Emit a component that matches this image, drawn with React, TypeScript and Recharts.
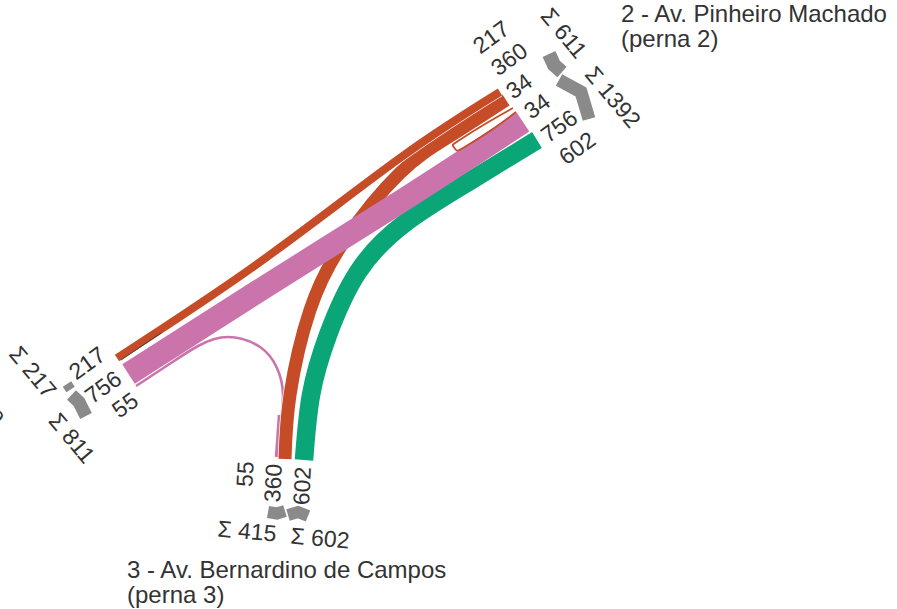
import { ComposedChart, Line, Scatter, XAxis, YAxis } from 'recharts'

const orange = '#c64c28'
const pink = '#cb74ab'
const green = '#0ba678'
const grey = '#8a8a8a'
const textColor = '#333333'

// flows, traced along the middle of each band (picture pixels)
const flow217 = [
  { x: 117, y: 358 },
  { x: 260, y: 262 },
  { x: 400, y: 158 },
  { x: 500, y: 92 }
]
const flow360 = [
  { x: 285, y: 459 },
  { x: 290, y: 395 },
  { x: 310, y: 310 },
  { x: 345, y: 240 },
  { x: 400, y: 173 },
  { x: 450, y: 136 },
  { x: 506, y: 100 }
]
const flow756 = [
  { x: 128.5, y: 374 },
  { x: 260, y: 290 },
  { x: 400, y: 202 },
  { x: 523, y: 122 }
]
const flow602 = [
  { x: 304, y: 460 },
  { x: 311, y: 395 },
  { x: 328, y: 335 },
  { x: 358, y: 272 },
  { x: 405, y: 223 },
  { x: 470, y: 181 },
  { x: 537, y: 140 }
]
const flow55 = [
  { x: 136, y: 386 },
  { x: 168, y: 365 },
  { x: 198, y: 346 },
  { x: 228, y: 337 },
  { x: 260, y: 347 },
  { x: 277, y: 368 },
  { x: 283, y: 395 },
  { x: 280, y: 430 },
  { x: 277, y: 457 }
]
const flow55End = [
  { x: 280, y: 415 },
  { x: 277, y: 457 }
]
const flow34Core = [
  { x: 459, y: 146 },
  { x: 513, y: 110 }
]
const flow34 = [
  { x: 513, y: 108 },
  { x: 485, y: 124 },
  { x: 458, y: 141 },
  { x: 453, y: 146 },
  { x: 456, y: 150 },
  { x: 463, y: 148 },
  { x: 490, y: 131 },
  { x: 516, y: 112 }
]
const gap217 = [
  { x: 121, y: 360 },
  { x: 161, y: 333 }
]

// grey direction arrows
const arrow611 = [
  { x: 549, y: 54 },
  { x: 554, y: 65 },
  { x: 562, y: 72 }
]
const arrow1392 = [
  { x: 559, y: 80 },
  { x: 581, y: 92 },
  { x: 589, y: 119 }
]
const arrow217 = [
  { x: 67, y: 384 },
  { x: 70.5, y: 389.5 }
]
const arrow811 = [
  { x: 71.5, y: 395 },
  { x: 79, y: 402 },
  { x: 86, y: 416 }
]
const arrow415 = [
  { x: 268, y: 512 },
  { x: 277, y: 513.5 },
  { x: 285, y: 511 }
]
const arrow602 = [
  { x: 288, y: 515 },
  { x: 298, y: 512 },
  { x: 308, y: 516 }
]

const topLabels = [
  { x: 491, y: 37, text: '217' },
  { x: 509, y: 59, text: '360' },
  { x: 519, y: 86, text: '34' },
  { x: 537, y: 106, text: '34' },
  { x: 559, y: 126, text: '756' },
  { x: 577, y: 148, text: '602' },
  { x: 87, y: 363, text: '217' },
  { x: 103, y: 387, text: '756' },
  { x: 125, y: 405, text: '55' }
]
const sumLabels = [
  { x: 564, y: 33, text: 'Σ 611' },
  { x: 613, y: 97, text: 'Σ 1392' },
  { x: 33, y: 372, text: 'Σ 217' },
  { x: 72, y: 438, text: 'Σ 811' }
]
const clippedLabels = [{ x: -2, y: 415, text: 'o' }]
const bottomLabels = [
  { x: 245, y: 474, text: '55' },
  { x: 273, y: 483, text: '360' },
  { x: 302, y: 486, text: '602' }
]
const bottomSums = [
  { x: 247, y: 531, text: 'Σ 415' },
  { x: 320, y: 538, text: 'Σ 602' }
]
const legTitles = [
  { x: 621, y: 22, text: '2 - Av. Pinheiro Machado' },
  { x: 621, y: 47, text: '(perna 2)' },
  { x: 127, y: 578, text: '3 - Av. Bernardino de Campos' },
  { x: 127, y: 603, text: '(perna 3)' }
]

const labelShape = (angle: number) => (props: any) => (
  <text
    x={0}
    y={0}
    transform={`translate(${props.cx},${props.cy}) rotate(${angle})`}
    textAnchor="middle"
    dominantBaseline="central"
    fontSize={23}
    fontFamily="Liberation Sans"
    fill={textColor}
  >
    {props.payload.text}
  </text>
)

const titleShape = (props: any) => (
  <text x={props.cx} y={props.cy} fontSize={24} fontFamily="Liberation Sans" fill={textColor}>
    {props.payload.text}
  </text>
)

function band(key: string, data: { x: number; y: number }[], color: string, width: number, type: any = 'natural') {
  return (
    <Line
      key={key}
      data={data}
      dataKey="y"
      type={type}
      stroke={color}
      strokeWidth={width}
      strokeLinejoin="miter"
      dot={false}
      activeDot={false}
      isAnimationActive={false}
    />
  )
}

export default function App() {
  return (
    <div style={{ position: 'absolute', left: 0, top: 0 }}>
      <ComposedChart width={897} height={609} margin={{ top: 0, right: 0, bottom: 0, left: 0 }}>
        <XAxis type="number" dataKey="x" domain={[0, 897]} hide allowDataOverflow />
        <YAxis type="number" dataKey="y" domain={[0, 609]} reversed hide allowDataOverflow />
        {band('flow55', flow55, pink, 2.6)}
        {band('flow55End', flow55End, pink, 4.5, 'linear')}
        {band('flow360casing', flow360, '#ffffff', 14.5)}
        {band('flow360', flow360, orange, 13)}
        {band('flow217casing', flow217, '#ffffff', 9.5)}
        {band('flow217', flow217, orange, 8)}
        {band('flow602casing', flow602, '#ffffff', 20)}
        {band('flow602', flow602, green, 18.5)}
        {band('flow756', flow756, pink, 23)}
        {band('gap217', gap217, '#444444', 1, 'linear')}
        {band('flow34Core', flow34Core, '#ffffff', 6, 'linear')}
        {band('flow34', flow34, orange, 1.8)}
        {band('arrow611', arrow611, grey, 14, 'linear')}
        {band('arrow1392', arrow1392, grey, 13, 'linear')}
        {band('arrow217', arrow217, grey, 10, 'linear')}
        {band('arrow811', arrow811, grey, 13, 'linear')}
        {band('arrow415', arrow415, grey, 12, 'linear')}
        {band('arrow602', arrow602, grey, 12, 'linear')}
        <Scatter data={topLabels} dataKey="y" shape={labelShape(-36)} isAnimationActive={false} />
        <Scatter data={sumLabels} dataKey="y" shape={labelShape(50)} isAnimationActive={false} />
        <Scatter data={clippedLabels} dataKey="y" shape={labelShape(50)} isAnimationActive={false} />
        <Scatter data={bottomLabels} dataKey="y" shape={labelShape(-87)} isAnimationActive={false} />
        <Scatter data={bottomSums} dataKey="y" shape={labelShape(5)} isAnimationActive={false} />
        <Scatter data={legTitles} dataKey="y" shape={titleShape} isAnimationActive={false} />
      </ComposedChart>
    </div>
  )
}
